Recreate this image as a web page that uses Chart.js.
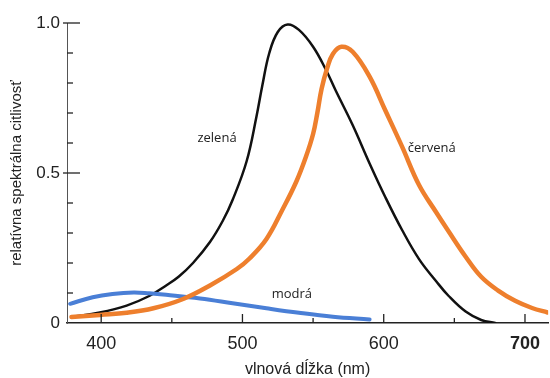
<!DOCTYPE html>
<html>
<head>
<meta charset="utf-8">
<script src="https://cdn.jsdelivr.net/npm/chart.js@4"></script>
<style>
  body { margin: 0; background: #fff; }
  #wrap { width: 550px; height: 378px; }
</style>
</head>
<body>
<div id="wrap"><canvas id="chart" width="550" height="378"></canvas></div>
<script>
// zelená (green cone) - black curve
const greenNm  = [379, 399, 418, 434, 446, 455, 465, 477, 486, 493, 503, 510, 514, 519, 525, 532, 540, 550, 559, 566, 578, 590, 601, 613, 625, 637, 646, 658, 669, 679]
const greenVal = [0.02, 0.035, 0.058, 0.09, 0.125, 0.155, 0.2, 0.27, 0.34, 0.41, 0.54, 0.69, 0.79, 0.9, 0.97, 0.995, 0.977, 0.921, 0.845, 0.775, 0.66, 0.532, 0.421, 0.31, 0.213, 0.14, 0.09, 0.038, 0.01, 0.0]

// červená (red cone) - orange curve
const redNm  = [379, 399, 418, 437, 458, 477, 496, 505, 517, 528, 538, 545, 550, 553, 556, 560, 564, 570, 578, 590, 601, 613, 625, 637, 646, 658, 669, 681, 693, 705, 716]
const redVal = [0.02, 0.027, 0.034, 0.049, 0.08, 0.125, 0.18, 0.215, 0.28, 0.375, 0.47, 0.555, 0.63, 0.7, 0.78, 0.85, 0.897, 0.921, 0.904, 0.821, 0.71, 0.588, 0.46, 0.37, 0.305, 0.221, 0.154, 0.108, 0.074, 0.05, 0.035]

// modrá (blue cone)
const blueNm  = [378, 394, 408, 423, 434, 446, 470, 493, 517, 540, 564, 590]
const blueVal = [0.064, 0.086, 0.097, 0.102, 0.099, 0.094, 0.082, 0.066, 0.049, 0.034, 0.021, 0.012]

const xMajorTicks = [400, 500, 600, 700]
const xMinorTicks = [450, 550, 650]
const yMajorTicks = [0, 0.5, 1.0]
const yTickLabels = ['0', '0.5', '1.0']
const yMinorTicks = [0.1, 0.2, 0.3, 0.4, 0.6, 0.7, 0.8, 0.9]

const curveNames = ['zelená', 'červená', 'modrá']
const curveLabelNm = [482, 634, 535]
const curveLabelVal = [0.617, 0.584, 0.097]

const xMin = 375.8, xMax = 716.4

function points(xs, ys) {
  return xs.map((x, i) => ({x: x, y: ys[i]}))
}

// inward tick marks like the printed figure
const tickMarks = {
  id: 'tickMarks',
  afterDraw(chart) {
    const {ctx, scales: {x, y}} = chart
    ctx.save()
    ctx.strokeStyle = '#222'
    ctx.lineWidth = 1.3
    const line = (x1, y1, x2, y2) => {
      ctx.beginPath(); ctx.moveTo(x1, y1); ctx.lineTo(x2, y2); ctx.stroke()
    }
    const bottom = y.getPixelForValue(0)
    const left = x.getPixelForValue(xMin)
    xMajorTicks.forEach(v => { const px = x.getPixelForValue(v); line(px, bottom, px, bottom - 9) })
    xMinorTicks.forEach(v => { const px = x.getPixelForValue(v); line(px, bottom, px, bottom - 5) })
    yMajorTicks.slice(1).forEach(v => { const py = y.getPixelForValue(v); line(left - 4, py, left + 13, py) })
    yMinorTicks.forEach(v => { const py = y.getPixelForValue(v); line(left, py, left + 6, py) })
    ctx.restore()
  }
}

const curveLabels = {
  id: 'curveLabels',
  afterDatasetsDraw(chart) {
    const {ctx, scales: {x, y}} = chart
    ctx.save()
    ctx.font = '13px "Open Sans"'
    ctx.fillStyle = '#222'
    ctx.textAlign = 'center'
    ctx.textBaseline = 'middle'
    curveNames.forEach((name, i) => {
      ctx.fillText(name, x.getPixelForValue(curveLabelNm[i]), y.getPixelForValue(curveLabelVal[i]))
    })
    ctx.restore()
  }
}

const lineStyle = {
  fill: false,
  pointRadius: 0,
  tension: 0.4,
  borderCapStyle: 'round',
  borderJoinStyle: 'round'
}

new Chart(document.getElementById('chart'), {
  type: 'line',
  data: {
    datasets: [
      Object.assign({label: 'červená', data: points(redNm, redVal), borderColor: '#ee7f2d', borderWidth: 4.5, order: 0}, lineStyle),
      Object.assign({label: 'modrá', data: points(blueNm, blueVal), borderColor: '#4a7fd6', borderWidth: 4, order: 1}, lineStyle),
      Object.assign({label: 'zelená', data: points(greenNm, greenVal), borderColor: '#111', borderWidth: 2.5, order: 2}, lineStyle)
    ]
  },
  options: {
    responsive: false,
    animation: false,
    layout: { padding: { top: 23, right: 0, left: 0, bottom: 0 } },
    plugins: { legend: { display: false }, tooltip: { enabled: false } },
    scales: {
      x: {
        type: 'linear',
        min: xMin,
        max: xMax,
        afterBuildTicks: scale => { scale.ticks = xMajorTicks.map(v => ({value: v})) },
        afterFit: scale => { scale.height = 55 },
        grid: { drawOnChartArea: false, drawTicks: false },
        border: { color: '#222', width: 1.5 },
        ticks: {
          padding: 10,
          color: '#222',
          maxRotation: 0,
          font: ctx => ({ family: 'Liberation Sans', size: 18, weight: ctx.tick && ctx.tick.value === 700 ? 'bold' : 'normal' })
        },
        title: {
          display: true,
          text: 'vlnová dĺžka (nm)',
          color: '#222',
          font: { family: 'Liberation Sans', size: 16, lineHeight: 1 },
          padding: { top: 0, bottom: 0 }
        }
      },
      y: {
        min: 0,
        max: 1,
        afterBuildTicks: scale => { scale.ticks = yMajorTicks.map(v => ({value: v})) },
        afterFit: scale => { scale.width = 67 },
        grid: { drawOnChartArea: false, drawTicks: false },
        border: { color: '#555', width: 1 },
        ticks: {
          padding: 7,
          color: '#222',
          font: { family: 'Liberation Sans', size: 17 },
          callback: (v, i) => yTickLabels[i]
        },
        title: {
          display: true,
          text: 'relatívna spektrálna citlivosť',
          color: '#222',
          font: { family: 'Liberation Sans', size: 15, lineHeight: 1.2 },
          padding: { top: 8, bottom: 0 }
        }
      }
    }
  },
  plugins: [tickMarks, curveLabels]
})
</script>
</body>
</html>
